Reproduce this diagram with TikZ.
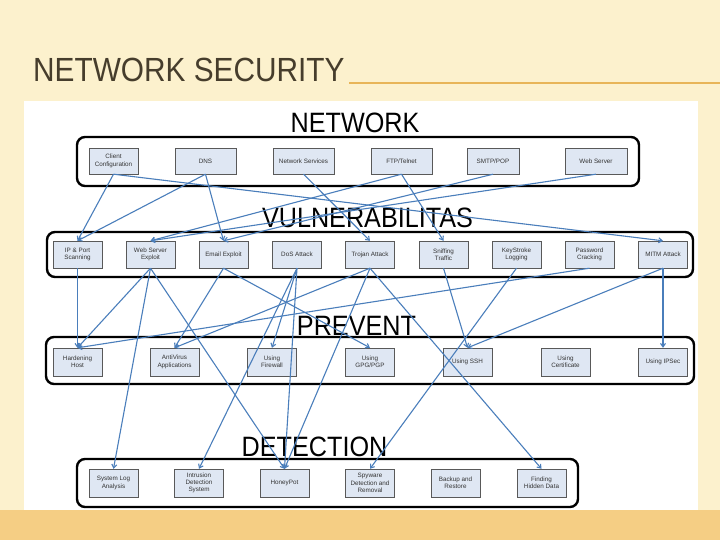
\documentclass[tikz,border=0pt]{standalone}
\usepackage{fontspec}
\setmainfont{Liberation Sans}
\usetikzlibrary{arrows.meta}

\definecolor{slidebg}{HTML}{FCF1CD}
\definecolor{bandbg}{HTML}{F5CE84}
\definecolor{rulecol}{HTML}{E8B558}
\definecolor{titlecol}{HTML}{463D2C}
\definecolor{boxfill}{HTML}{DFE7F3}
\definecolor{linkcol}{HTML}{4A7EBB}

\tikzset{
  item/.style={rectangle, draw=black!65, fill=boxfill, minimum width=49pt,
    minimum height=27pt, inner sep=1pt, align=center,
    font=\fontsize{6.3}{7.3}\selectfont, text=black!80},
  group/.style={rectangle, rounded corners=8pt, draw=black, line width=2.4pt,
    inner sep=0pt},
  heading/.style={font=\fontsize{28}{28}\selectfont, anchor=base, text=black},
  link/.style={draw=linkcol, line width=1.1pt,
    -{Straight Barb[length=3.5pt,width=5pt]}},
}

\begin{document}
\begin{tikzpicture}[x=1pt,y=-1pt]
  \useasboundingbox (0,0) rectangle (720,540);
  % slide
  \fill[slidebg] (0,0) rectangle (720,540);
  \fill[white] (24,101) rectangle (698,510);
  \fill[bandbg] (0,510) rectangle (720,540);
  \node[anchor=base west, inner sep=0pt, text=titlecol,
    font=\fontsize{33.5}{33.5}\selectfont] (slidetitle) at (33,82)
    {\scalebox{0.89}[1]{NETWORK SECURITY}};
  \draw[rulecol, line width=1.2pt] (349,83) -- (720,83);

  % groups
  \node[group, minimum width=562pt, minimum height=49pt] (netgrp) at (358,161.5) {};
  \node[group, minimum width=646pt, minimum height=45pt] (vulgrp) at (370,254.5) {};
  \node[group, minimum width=648pt, minimum height=47pt] (pregrp) at (370,360.5) {};
  \node[group, minimum width=501pt, minimum height=48pt] (detgrp) at (327.5,483) {};

  \node[heading] (tnet) at (355,133) {\scalebox{0.9}[1]{NETWORK}};
  \node[heading] (tvul) at (367.5,228) {\scalebox{0.9}[1]{VULNERABILITAS}};
  \node[heading] (tpre) at (356.5,335) {\scalebox{0.9}[1]{PREVENT}};
  \node[heading] (tdet) at (314.5,456) {\scalebox{0.9}[1]{DETECTION}};

  % network
  \node[item, minimum height=26pt] (cc) at (113.5,161) {Client\\Configuration};
  \node[item, minimum height=26pt, minimum width=61pt] (dns) at (205.5,161) {DNS};
  \node[item, minimum height=26pt, minimum width=61pt] (netsvc) at (303.5,161) {Network Services};
  \node[item, minimum height=26pt, minimum width=61pt] (ftp) at (401.5,161) {FTP/Telnet};
  \node[item, minimum height=26pt, minimum width=52pt] (smtp) at (493,161) {SMTP/POP};
  \node[item, minimum height=26pt, minimum width=62pt] (websrv) at (596,161) {Web Server};

  % vulnerabilitas
  \node[item] (ip) at (77.5,254.5) {IP \& Port\\Scanning};
  \node[item] (wse) at (150.5,254.5) {Web Server\\Exploit};
  \node[item] (email) at (223.5,254.5) {Email Exploit};
  \node[item] (dos) at (297,254.5) {DoS Attack};
  \node[item] (trojan) at (370,254.5) {Trojan Attack};
  \node[item] (sniff) at (443.5,254.5) {Sniffing\\Traffic};
  \node[item] (keys) at (516.5,254.5) {KeyStroke\\Logging};
  \node[item] (pass) at (589.5,254.5) {Password\\Cracking};
  \node[item] (mitm) at (663,254.5) {MITM Attack};

  % prevent
  \node[item, minimum height=28pt] (hard) at (77.5,362) {Hardening\\Host};
  \node[item, minimum height=28pt] (anti) at (174.5,362) {AntiVirus\\Applications};
  \node[item, minimum height=28pt] (fire) at (272,362) {Using\\Firewall};
  \node[item, minimum height=28pt] (gpg) at (370,362) {Using\\GPG/PGP};
  \node[item, minimum height=28pt] (ssh) at (467.5,362) {Using SSH};
  \node[item, minimum height=28pt] (cert) at (565.5,362) {Using\\Certificate};
  \node[item, minimum height=28pt] (ipsec) at (663,362) {Using IPSec};

  % detection
  \node[item, minimum height=28pt] (syslog) at (113.5,483) {System Log\\Analysis};
  \node[item, minimum height=28pt] (ids) at (199,483) {Intrusion\\Detection\\System};
  \node[item, minimum height=28pt] (honey) at (284.5,483) {HoneyPot};
  \node[item, minimum height=28pt] (spy) at (370,483) {Spyware\\Detection and\\Removal};
  \node[item, minimum height=28pt] (backup) at (455.5,483) {Backup and\\Restore};
  \node[item, minimum height=28pt] (fhd) at (541.5,483) {Finding\\Hidden Data};

  % links
  \draw[link] (cc.south) -- (ip.north);
  \draw[link] (cc.south) -- (mitm.north);
  \draw[link] (dns.south) -- (ip.north);
  \draw[link] (dns.south) -- (email.north);
  \draw[link] (netsvc.south) -- (trojan.north);
  \draw[link] (ftp.south) -- (wse.north);
  \draw[link] (ftp.south) -- (sniff.north);
  \draw[link] (smtp.south) -- (email.north);
  \draw[link] (websrv.south) -- (wse.north);

  \draw[link] (ip.south) -- (hard.north);
  \draw[link] (wse.south) -- (hard.north);
  \draw[link] (wse.south) -- (syslog.north);
  \draw[link] (wse.south) -- (honey.north);
  \draw[link] (email.south) -- (anti.north);
  \draw[link] (email.south) -- (gpg.north);
  \draw[link] (dos.south) -- (fire.north);
  \draw[link] (dos.south) -- (ids.north);
  \draw[link] (dos.south) -- (honey.north);
  \draw[link] (trojan.south) -- (anti.north);
  \draw[link] (trojan.south) -- (honey.north);
  \draw[link] (trojan.south) -- (fhd.north);
  \draw[link] (sniff.south) -- (ssh.north);
  \draw[link] (keys.south) -- (spy.north);
  \draw[link] (pass.south) -- (hard.north);
  \draw[link] (mitm.south) -- (ssh.north);
  \draw[link] (mitm.south) -- (ipsec.north);
\end{tikzpicture}
\end{document}
